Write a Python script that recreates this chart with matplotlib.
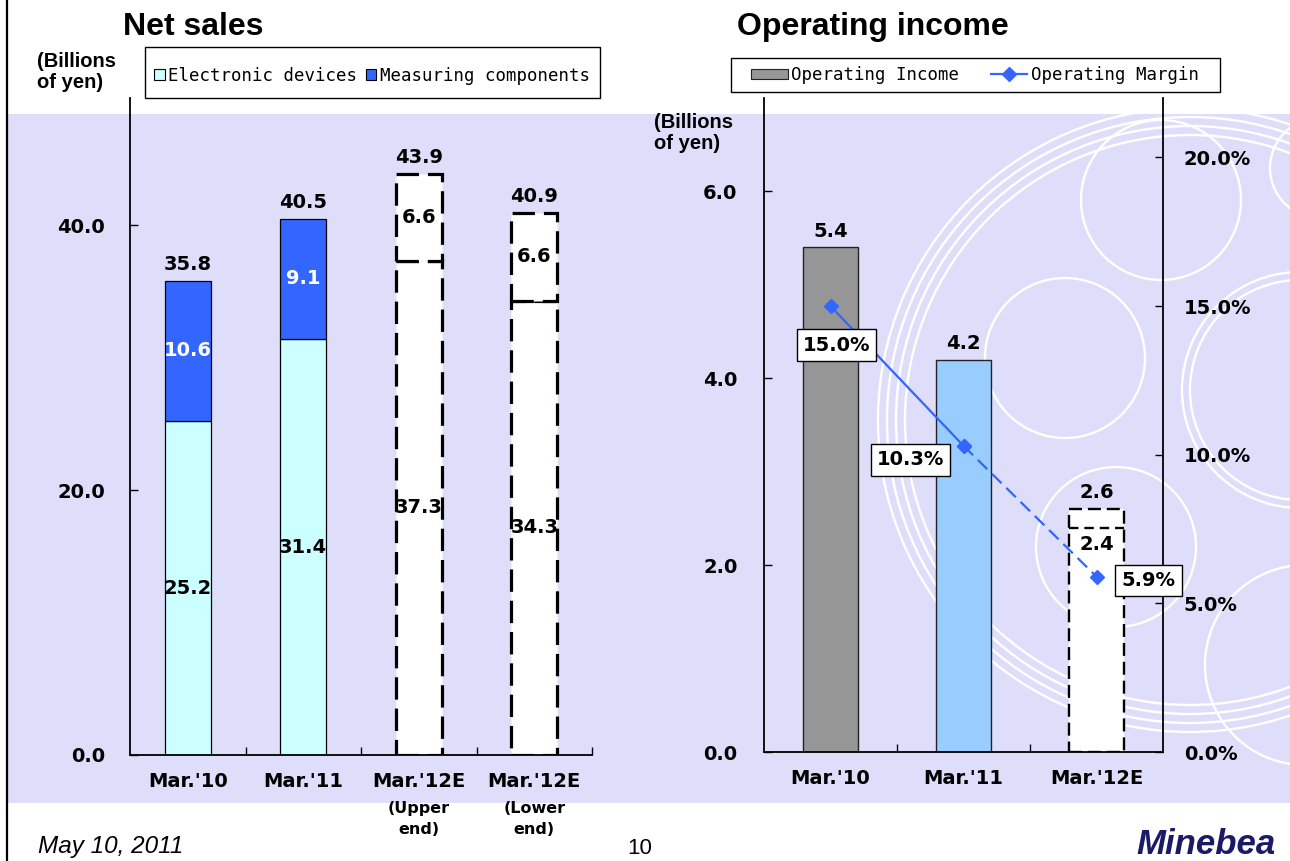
import matplotlib as mpl
mpl.use('Agg')
import matplotlib.pyplot as plt
import numpy as np
from matplotlib.patches import Rectangle, Circle, Patch
from matplotlib.lines import Line2D
from matplotlib.ticker import FormatStrFormatter

# Net sales, billions of yen
sales_periods = ["Mar.'10", "Mar.'11", "Mar.'12E", "Mar.'12E"]
sales_notes = ['', '', '(Upper\nend)', '(Lower\nend)']
electronic = [25.2, 31.4, 37.3, 34.3]
measuring = [10.6, 9.1, 6.6, 6.6]
sales_total = [35.8, 40.5, 43.9, 40.9]
sales_forecast = [False, False, True, True]

# Operating income, billions of yen / operating margin, %
income_periods = ["Mar.'10", "Mar.'11", "Mar.'12E"]
op_income = [5.4, 4.2, 2.6]
op_income_low = 2.4      # lower end of the Mar.'12E forecast
op_margin = [15.0, 10.3, 5.9]

# decorative rings behind the right chart (pixel coords: x, y, r)
rings = [(1161, 200, 80), (1065, 358, 80), (1116, 547, 80),
         (1300, 390, 110), (1300, 390, 118), (1320, 168, 50),
         (1305, 665, 100),
         (1190, 420, 285), (1190, 420, 294), (1190, 420, 303), (1190, 420, 312)]

W, H = 1290, 861
LAV = '#DEDEFA'
CYAN = '#CCFFFF'
BLUE = '#3366FF'


def fx(x):
    return x / W


def fy(y):
    return 1 - y / H


fig = plt.figure(figsize=(W / 100, H / 100), dpi=100)
fig.patch.set_facecolor('white')

# background band + rings
bg = fig.add_axes([0, 0, 1, 1], zorder=0)
bg.set_xlim(0, W)
bg.set_ylim(H, 0)
bg.axis('off')
band = Rectangle((8, 114), W - 8, 803 - 114, facecolor=LAV, edgecolor='none')
bg.add_patch(band)
for cx, cy, r in rings:
    c = Circle((cx, cy), r, fill=False, edgecolor='white', lw=1.7)
    bg.add_patch(c)
    c.set_clip_path(band)
bg.plot([7, 7], [0, H], color='black', lw=1.6)

lab = dict(fontsize=14, fontweight='bold', family='DejaVu Sans')

# ---------------- Net sales ----------------
ax1 = fig.add_axes([fx(130), fy(755), 462 / W, 657 / H], zorder=2)
ax1.set_facecolor('none')
x = np.arange(len(sales_periods))
elec = np.array(electronic)
meas = np.array(measuring)
est = np.array(sales_forecast)
act = ~est
bw = 0.4

ax1.bar(x[act], elec[act], bw, color=CYAN, edgecolor='black', lw=0.9)
ax1.bar(x[act], meas[act], bw, bottom=elec[act], color=BLUE, edgecolor='black', lw=0.9)
dashed = dict(facecolor='white', edgecolor='black', linewidth=2.3, linestyle=(0, (7, 2.8)))
ax1.bar(x[est], elec[est], bw, **dashed)
ax1.bar(x[est], meas[est], bw, bottom=elec[est], **dashed)

for i in range(len(x)):
    ax1.text(x[i], elec[i] / 2, f'{elec[i]:.1f}', ha='center', va='center', **lab)
    ax1.text(x[i], elec[i] + meas[i] / 2, f'{meas[i]:.1f}', ha='center', va='center',
             color='white' if act[i] else 'black', **lab)
    ax1.annotate(f'{sales_total[i]:.1f}', (x[i], elec[i] + meas[i]), xytext=(0, 5),
                 textcoords='offset points', ha='center', va='bottom', **lab)
    if sales_notes[i]:
        ax1.annotate(sales_notes[i], (x[i], 0), xycoords=('data', 'axes fraction'),
                     xytext=(0, -33), textcoords='offset points', ha='center', va='top',
                     fontsize=11.5, fontweight='bold', linespacing=1.5, annotation_clip=False)

ax1.set_xlim(-0.5, len(x) - 0.5)
ax1.set_ylim(0, 49.6)
ax1.set_xticks(x, sales_periods)
ax1.set_xticks(np.arange(0.5, len(x), 1), minor=True)
ax1.set_yticks([0, 20, 40])
ax1.yaxis.set_major_formatter(FormatStrFormatter('%.1f'))
ax1.tick_params(axis='x', which='major', length=0, pad=12)
ax1.tick_params(axis='x', which='minor', direction='in', length=6, width=1)
ax1.tick_params(axis='y', direction='in', length=6, width=1, pad=18)
for t in ax1.get_xticklabels() + ax1.get_yticklabels():
    t.set_fontweight('bold')
    t.set_fontsize(14)
ax1.spines[['top', 'right']].set_visible(False)
ax1.spines[['left', 'bottom']].set_linewidth(1.3)

# ---------------- Operating income ----------------
ax2 = fig.add_axes([fx(764), fy(752), 399 / W, 654 / H], zorder=2)
ax2.set_facecolor('none')
xi = np.arange(len(income_periods))
inc = np.array(op_income)
bw2 = 0.41

ax2.bar(xi[:2], inc[:2], bw2, color=['#969696', '#99CCFF'], edgecolor='#222222', lw=1)
ax2.bar(xi[2], inc[2], bw2, facecolor='white', edgecolor='black', lw=1.7,
        linestyle=(0, (5.5, 2.5)))
ax2.hlines(op_income_low, xi[2] - bw2 / 2, xi[2] + bw2 / 2, color='black', lw=1.7,
           linestyle=(0, (4, 2.5)))
for i in range(len(xi)):
    ax2.annotate(f'{inc[i]:.1f}', (xi[i], inc[i]), xytext=(0, 5), textcoords='offset points',
                 ha='center', va='bottom', **lab)
ax2.annotate(f'{op_income_low:.1f}', (xi[2], op_income_low), xytext=(0, -5),
             textcoords='offset points', ha='center', va='top', **lab)

ax2.set_xlim(-0.5, len(xi) - 0.5)
ax2.set_ylim(0, 7.0)
ax2.set_xticks(xi, income_periods)
ax2.set_xticks(np.arange(0.5, len(xi) - 1, 1), minor=True)
ax2.set_yticks([0, 2, 4, 6])
ax2.yaxis.set_major_formatter(FormatStrFormatter('%.1f'))
ax2.tick_params(axis='x', which='major', length=0, pad=12)
ax2.tick_params(axis='x', which='minor', direction='in', length=6, width=1)
ax2.tick_params(axis='y', direction='in', length=6, width=1, pad=19)
for t in ax2.get_xticklabels() + ax2.get_yticklabels():
    t.set_fontweight('bold')
    t.set_fontsize(14)
ax2.spines[['top', 'right']].set_visible(False)
ax2.spines[['left', 'bottom']].set_linewidth(1.3)

ax3 = ax2.twinx()
ax3.set_ylim(0, 22)
ax3.plot(xi[:2], op_margin[:2], color=BLUE, lw=1.6, marker='D', ms=7.5)
ax3.plot(xi[1:], op_margin[1:], color=BLUE, lw=1.6, ls=(0, (6, 3)), marker='D', ms=7.5)
margin_offsets = [(6, -39), (-53, -14), (52, -4)]
for i in range(len(xi)):
    ax3.annotate(f'{op_margin[i]:.1f}%', (xi[i], op_margin[i]), xytext=margin_offsets[i],
                 textcoords='offset pixels', ha='center', va='center', zorder=5,
                 bbox=dict(boxstyle='square,pad=0.32', fc='white', ec='black', lw=1), **lab)
ax3.set_yticks([0, 5, 10, 15, 20])
ax3.yaxis.set_major_formatter(FormatStrFormatter('%.1f%%'))
ax3.tick_params(axis='y', direction='in', length=6, width=1, pad=15)
for t in ax3.get_yticklabels():
    t.set_fontweight('bold')
    t.set_fontsize(14)
ax3.spines[['top', 'left', 'bottom']].set_visible(False)
ax3.spines['right'].set_linewidth(1.3)

# ---------------- titles, legends, footer ----------------
title = dict(fontsize=23, fontweight='bold', family='Liberation Sans', va='center')
fig.text(fx(123), fy(27), 'Net sales', **title)
fig.text(fx(737), fy(27), 'Operating income', **title)

unit = dict(fontsize=14.5, fontweight='bold', family='Liberation Sans', va='center',
            linespacing=1.15)
fig.text(fx(37), fy(72), '(Billions\nof yen)', **unit)
fig.text(fx(654), fy(133), '(Billions\nof yen)', **unit)

mono = dict(family='DejaVu Sans Mono', size=12.5)
fig.add_artist(Rectangle((fx(145), fy(98)), 455 / W, 51 / H, transform=fig.transFigure,
                         fc='white', ec='black', lw=1, zorder=3))
fig.legend([Patch(fc=CYAN, ec='black', lw=0.8), Patch(fc=BLUE, ec='black', lw=0.8)],
           ['Electronic devices', 'Measuring components'], loc='center',
           bbox_to_anchor=(fx(372), fy(76)), ncol=2, frameon=False, prop=mono,
           handlelength=0.6, handleheight=0.6, handletextpad=0.2, columnspacing=0.5,
           borderpad=0, borderaxespad=0)

fig.add_artist(Rectangle((fx(731), fy(92)), 489 / W, 34 / H, transform=fig.transFigure,
                         fc='white', ec='black', lw=1, zorder=3))
fig.legend([Patch(fc='#969696', ec='#222222', lw=0.8),
            Line2D([], [], color=BLUE, lw=1.6, marker='D', ms=7)],
           ['Operating Income', 'Operating Margin'], loc='center',
           bbox_to_anchor=(fx(975), fy(75)), ncol=2, frameon=False, prop=mono,
           handlelength=2.1, handleheight=0.5, handletextpad=0.2, columnspacing=1.8,
           borderpad=0, borderaxespad=0)

fig.text(fx(38), fy(847), 'May 10, 2011', fontsize=17.5, style='italic',
         family='Liberation Sans', va='center')
fig.text(fx(640), fy(849), '10', fontsize=16, family='Liberation Sans', ha='center',
         va='center')
fig.text(fx(1276), fy(845), 'Minebea', fontsize=25, fontweight='heavy', style='italic',
         family='Liberation Sans', color='#1a1a66', ha='right', va='center')

fig.savefig('out.png', dpi=100)
